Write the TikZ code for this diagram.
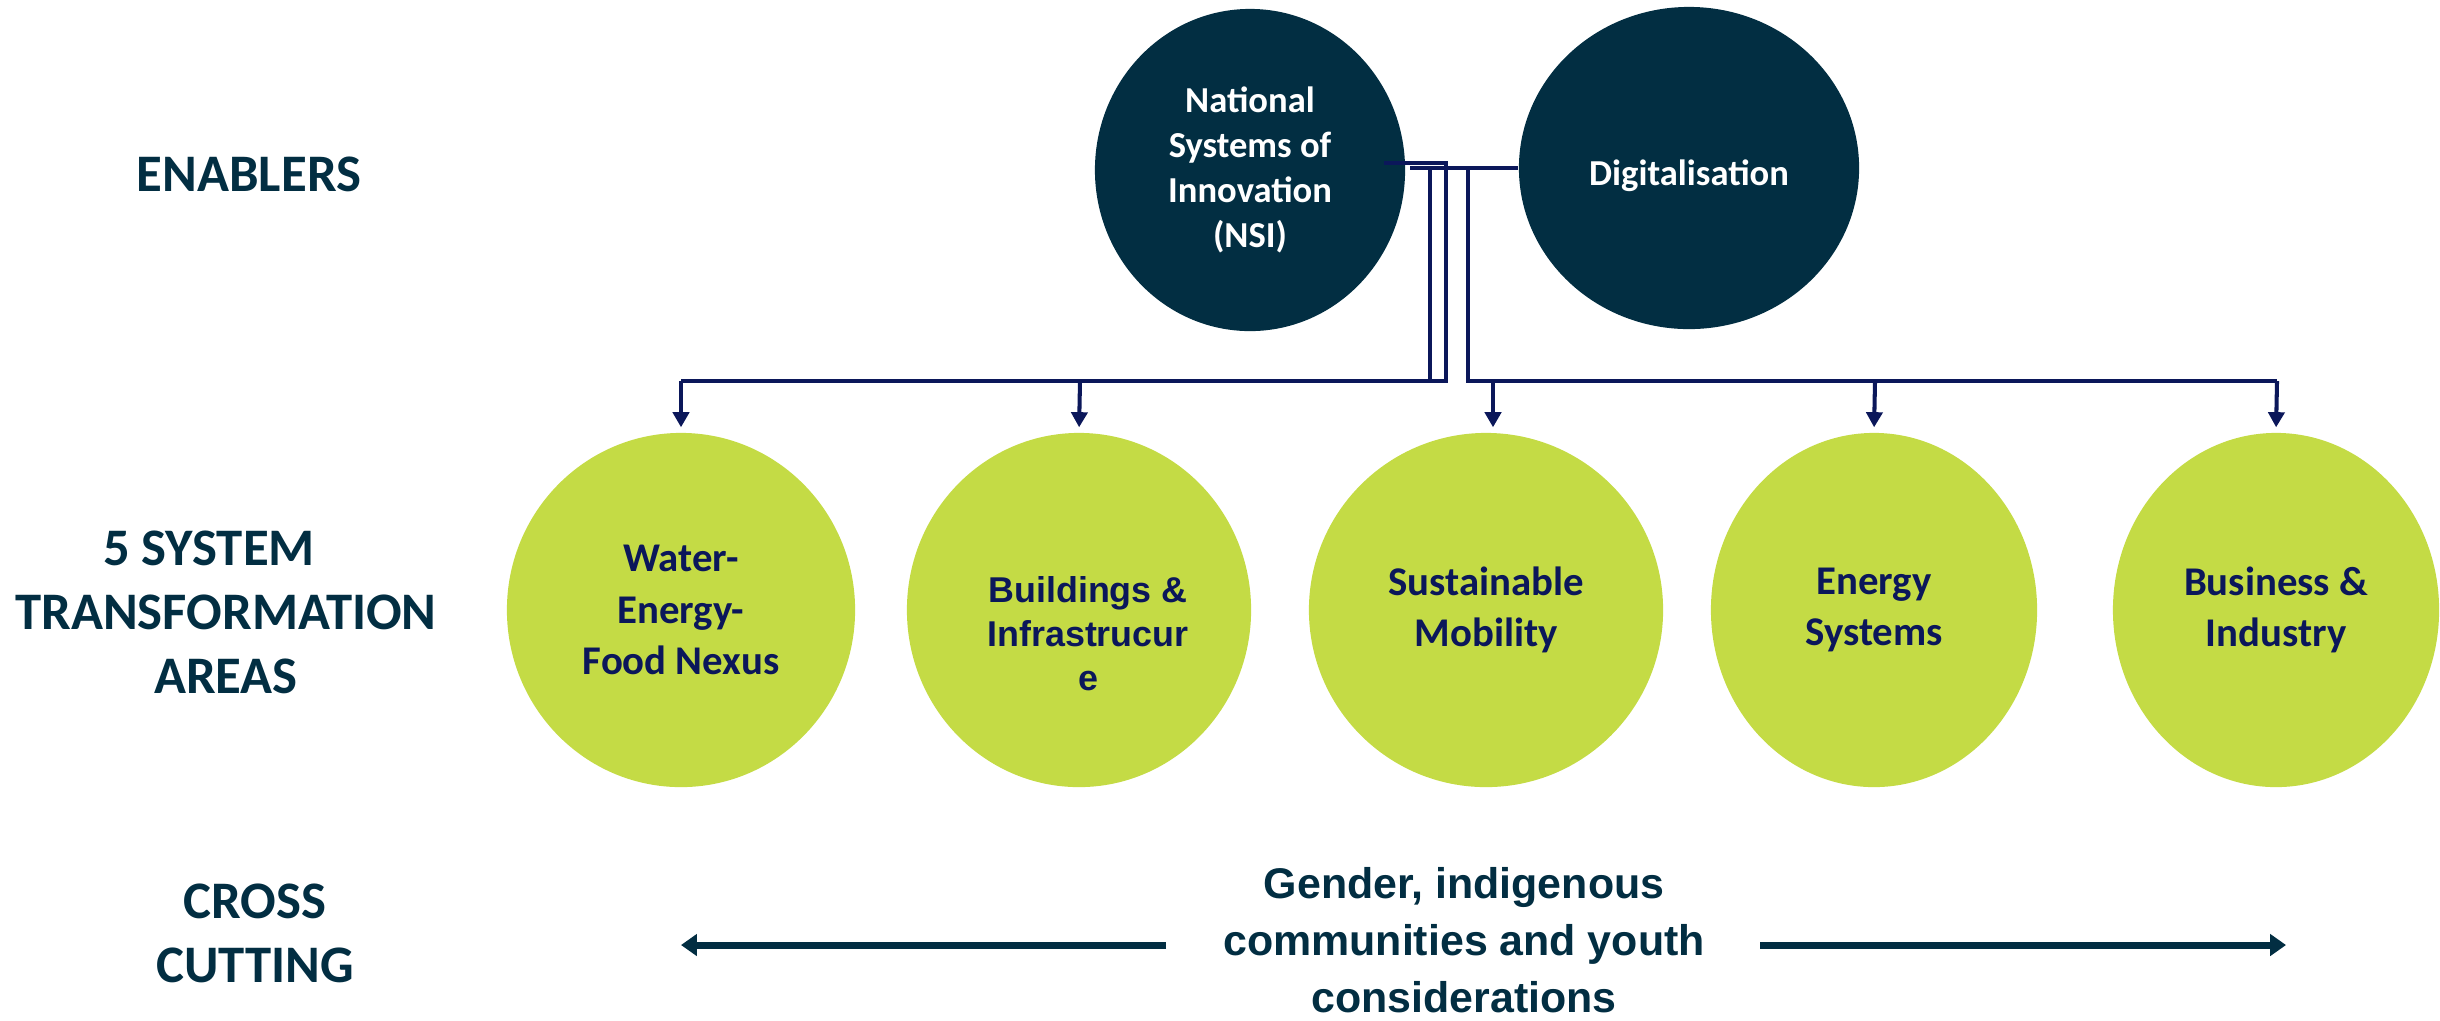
\documentclass[tikz,border=0pt]{standalone}
\usepackage{fontspec}
\setmainfont{Carlito}
\newfontfamily\robo{Liberation Sans}
\usetikzlibrary{shapes.geometric,arrows.meta}
\definecolor{dteal}{HTML}{022E42}
\definecolor{limeg}{HTML}{C4DB45}
\definecolor{navyb}{HTML}{0B175A}
\begin{document}
\begin{tikzpicture}[x=0.01cm,y=-0.01cm,
  enabler/.style={ellipse, fill=dteal, draw=none, inner sep=0pt, text=white,
    font=\bfseries\fontsize{10.4}{12.8}\selectfont, align=center, minimum height=3.22cm},
  area/.style={ellipse, fill=limeg, draw=none, inner sep=0pt, text=navyb,
    font=\bfseries\fontsize{11.6}{14.6}\selectfont, align=center, minimum height=3.54cm},
  rowlabel/.style={text=dteal, font=\bfseries\fontsize{15}{18.2}\selectfont, align=center},
  bus/.style={draw=navyb, line width=1.15pt},
  feed/.style={bus, -{Triangle[length=4.3pt,width=4.6pt]}, shorten >=1.4pt},
  crossarrow/.style={draw=dteal, line width=2pt, -{Triangle[length=4.5pt,width=6pt]}}
]
\useasboundingbox (0,0) rectangle (2440,1020);

% row labels
\node[rowlabel] (lenab) at (249,174) {ENABLERS};
\node[rowlabel] (lsta) at (226,612) {5 SYSTEM\hspace*{0.34cm}\\TRANSFORMATION\\AREAS};
\node[rowlabel] (lcross) at (255,933) {CROSS\\CUTTING};

% enablers
\node[enabler, minimum width=3.10cm] (nsi) at (1250,170) {National\\Systems of\\Innovation\\(NSI)};
\node[enabler, minimum width=3.40cm] (dig) at (1689,168) {\raisebox{-0.08cm}[\height][\depth]{Digitalisation}};

% transformation areas
\node[area, minimum width=3.48cm] (wef) at (681,610) {Water-\\Energy-\\Food Nexus};
\node[area, minimum width=3.44cm] (bld) at (1079,610) {};
\node[text=navyb, font=\robo\bfseries\fontsize{10.2}{12.5}\selectfont, align=center] (bldtext) at (1088,634) {Buildings \&\\Infrastrucur\\e};
\node[area, minimum width=3.54cm] (sus) at (1486,610) {Sustainable\\Mobility};
\node[area, minimum width=3.26cm] (ens) at (1874,610) {Energy\\Systems};
\node[area, minimum width=3.26cm] (bin) at (2276,610) {Business \&\\Industry};

% connector coordinates
\coordinate (aStart) at (1384,163);
\coordinate (aEnd) at (1446,163);
\coordinate (bStart) at (1410,168);
\coordinate (v1top) at (1430,168);
\coordinate (v1bot) at (1430,381);
\coordinate (v2bot) at (1446,381);
\coordinate (v3top) at (1468,168);
\coordinate (v3bot) at (1468,381);
\coordinate (busL) at (681,381);
\coordinate (busB) at (1080,381);
\coordinate (busS) at (1493,381);
\coordinate (busE) at (1875,381);
\coordinate (busR) at (2277,381);

\draw[bus] (aStart) -- (aEnd) -- (v2bot) -- (busL);
\draw[bus] (bStart) -- (dig.west);
\draw[bus] (v1top) -- (v1bot) -- (v2bot);
\draw[bus] (v3top) -- (v3bot) -- (busR);

\draw[feed] (busL) -- (wef.north);
\draw[feed] (busB) -- (bld.north);
\draw[feed] (busS) -- (sus.north -| busS);
\draw[feed] (busE) -- (ens.north);
\draw[feed] (busR) -- (bin.north);

% cross cutting
\node[text=dteal, font=\robo\bfseries\fontsize{12.2}{16.2}\selectfont, align=center] (gender) at (1464,940) {Gender, indigenous\\communities and youth\\considerations};
\coordinate (crossLa) at (1166,945);
\coordinate (crossLb) at (681,945);
\coordinate (crossRa) at (1760,945);
\coordinate (crossRb) at (2286,945);
\draw[crossarrow] (crossLa) -- (crossLb);
\draw[crossarrow] (crossRa) -- (crossRb);
\end{tikzpicture}
\end{document}
